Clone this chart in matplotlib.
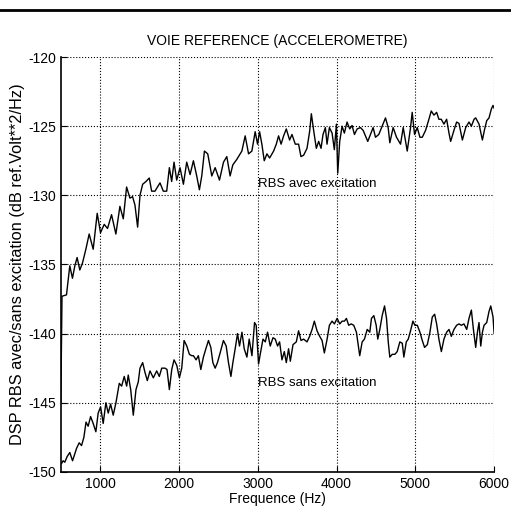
import numpy as np
import matplotlib.pyplot as plt
from matplotlib.lines import Line2D

plt.rcParams['font.family'] = ['Liberation Sans', 'DejaVu Sans']
plt.rcParams['axes.unicode_minus'] = False

# RBS avec excitation (Hz, dB)
freq_avec = [500, 515, 572, 614, 648, 678, 707, 741, 775, 818, 860, 911, 962, 1004,
             1051, 1093, 1144, 1199, 1250, 1293, 1335, 1377, 1411, 1441, 1475, 1505,
             1539, 1581, 1623, 1653, 1695, 1759, 1801, 1844, 1878, 1907, 1937, 1971,
             2013, 2056, 2098, 2141, 2183, 2225, 2259, 2289, 2323, 2365, 2416, 2459,
             2514, 2565, 2607, 2649, 2683, 2734, 2798, 2840, 2883, 2925, 2967, 2997,
             3023, 3052, 3082, 3116, 3150, 3201, 3235, 3264, 3296, 3328, 3362, 3404,
             3434, 3476, 3518, 3548, 3582, 3625, 3659, 3680, 3709, 3743, 3773, 3803,
             3828, 3858, 3879, 3909, 3943, 3972, 3998, 4015, 4040, 4070, 4099, 4133,
             4167, 4197, 4227, 4261, 4303, 4337, 4367, 4396, 4430, 4464, 4494, 4536,
             4579, 4621, 4655, 4676, 4718, 4761, 4812, 4846, 4897, 4939, 4960, 4990,
             5024, 5058, 5088, 5130, 5172, 5202, 5236, 5270, 5299, 5329, 5363, 5397,
             5427, 5448, 5490, 5524, 5554, 5597, 5639, 5681, 5711, 5745, 5766, 5808,
             5851, 5880, 5906, 5935, 5965, 5986, 6000]
dsp_avec = [-145.0, -137.3, -137.2, -135.1, -136.0, -135.1, -134.5, -135.4, -134.9,
            -133.9, -132.8, -133.9, -131.3, -132.7, -132.1, -132.4, -131.4, -132.8,
            -130.8, -131.7, -129.4, -130.2, -130.1, -130.7, -132.3, -130.0, -129.2,
            -129.0, -128.75, -129.7, -129.7, -129.1, -129.7, -129.7, -128.0, -129.0,
            -127.6, -128.9, -128.0, -129.2, -127.6, -128.5, -127.5, -128.6, -129.6,
            -128.6, -126.8, -127.0, -128.6, -128.0, -128.9, -127.6, -127.2, -128.6,
            -127.8, -127.4, -126.8, -125.7, -127.0, -126.8, -125.4, -126.3, -125.4,
            -126.3, -127.5, -127.0, -127.3, -126.8, -126.3, -125.7, -126.3, -125.7,
            -125.2, -126.0, -125.6, -126.3, -126.3, -127.2, -127.1, -126.6, -125.35,
            -124.1, -125.3, -126.6, -126.1, -126.6, -125.6, -125.1, -126.3, -125.1,
            -125.5, -126.7, -124.85, -128.4, -126.1, -125.0, -125.5, -124.7, -125.2,
            -124.95, -125.6, -125.2, -125.1, -125.3, -125.7, -126.1, -125.6, -125.1,
            -125.8, -125.6, -125.0, -124.4, -125.1, -126.2, -125.1, -125.8, -126.3,
            -125.1, -126.8, -125.1, -124.0, -125.6, -125.1, -125.8, -125.8, -125.3,
            -124.5, -123.9, -124.2, -124.0, -124.5, -124.5, -124.85, -124.5, -125.5,
            -126.1, -125.3, -124.7, -124.8, -126.0, -125.1, -124.7, -125.0, -124.5,
            -124.4, -124.85, -126.0, -125.2, -124.6, -124.4, -123.75, -123.5, -123.7]

# RBS sans excitation (Hz, dB)
freq_sans = [509, 529, 551, 580, 614, 649, 700, 733, 763, 793, 820, 847, 878, 911,
             945, 974, 1005, 1038, 1072, 1102, 1132, 1165, 1200, 1242, 1272, 1305,
             1336, 1356, 1387, 1420, 1454, 1483, 1505, 1539, 1568, 1598, 1632, 1674,
             1717, 1750, 1781, 1823, 1848, 1878, 1908, 1937, 1972, 2005, 2035, 2065,
             2099, 2132, 2162, 2183, 2217, 2246, 2277, 2310, 2341, 2374, 2404, 2430,
             2459, 2488, 2522, 2564, 2599, 2628, 2659, 2684, 2713, 2743, 2768, 2799,
             2828, 2862, 2891, 2926, 2959, 2980, 3010, 3031, 3066, 3095, 3124, 3158,
             3193, 3222, 3251, 3277, 3307, 3337, 3362, 3391, 3413, 3447, 3489, 3518,
             3549, 3582, 3625, 3658, 3689, 3718, 3752, 3786, 3816, 3845, 3880, 3909,
             3943, 3973, 4007, 4040, 4071, 4100, 4125, 4154, 4185, 4218, 4252, 4294,
             4325, 4354, 4389, 4422, 4443, 4473, 4503, 4523, 4549, 4579, 4609, 4634,
             4656, 4676, 4707, 4740, 4770, 4803, 4834, 4854, 4885, 4910, 4939, 4969,
             4994, 5025, 5058, 5088, 5117, 5152, 5185, 5215, 5245, 5270, 5299, 5330,
             5363, 5397, 5427, 5457, 5490, 5524, 5554, 5584, 5617, 5652, 5681, 5711,
             5737, 5766, 5788, 5808, 5830, 5851, 5872, 5906, 5935, 5957, 5986, 6000]
dsp_sans = [-149.4, -149.2, -149.3, -148.9, -148.6, -149.2, -148.3, -147.9, -148.1,
            -147.5, -146.4, -146.7, -146.0, -146.5, -147.1, -145.75, -145.3, -146.5,
            -145.0, -145.75, -145.1, -145.9, -145.0, -143.6, -143.8, -143.1, -143.8,
            -143.0, -144.05, -145.9, -144.05, -143.5, -142.5, -142.1, -142.8, -143.4,
            -142.7, -143.2, -142.7, -143.1, -142.5, -142.5, -142.6, -144.05, -142.6,
            -141.9, -142.3, -143.2, -142.5, -140.5, -140.9, -141.5, -141.6, -141.6,
            -141.9, -141.6, -142.6, -141.7, -141.1, -140.5, -141.0, -142.1, -142.5,
            -142.1, -141.4, -140.5, -140.9, -142.1, -143.1, -142.1, -141.1, -140.0,
            -140.9, -139.9, -141.1, -141.7, -140.4, -141.6, -139.2, -139.4, -142.2,
            -141.5, -140.4, -140.6, -139.9, -140.9, -140.3, -140.4, -140.9, -140.6,
            -141.9, -141.3, -142.1, -141.1, -142.0, -140.8, -140.6, -139.8, -140.5,
            -140.4, -140.6, -140.2, -139.7, -139.1, -139.8, -140.2, -140.5, -141.4,
            -140.4, -139.4, -139.1, -139.3, -138.9, -139.3, -139.1, -139.1, -138.9,
            -139.4, -139.3, -139.4, -139.9, -141.6, -140.6, -140.4, -139.7, -139.9,
            -138.9, -138.7, -139.4, -140.4, -139.7, -138.7, -138.0, -138.9, -140.6,
            -141.7, -141.5, -141.5, -141.3, -140.6, -140.7, -141.7, -140.6, -140.4,
            -139.8, -139.1, -139.4, -139.4, -139.9, -140.5, -141.0, -140.8, -139.9,
            -138.8, -138.6, -139.3, -140.4, -141.3, -140.4, -139.9, -139.7, -140.2,
            -139.7, -139.4, -139.3, -139.4, -139.3, -139.7, -138.9, -138.3, -139.7,
            -141.0, -139.9, -139.2, -140.9, -139.9, -139.4, -139.2, -138.4, -138.0,
            -138.8, -140.0]

xticks = [1000, 2000, 3000, 4000, 5000, 6000]
yticks = [-150, -145, -140, -135, -130, -125, -120]

fig = plt.figure(figsize=(5.11, 5.14), dpi=100)
ax = fig.add_axes([0.119, 0.082, 0.848, 0.807])

ax.plot(freq_avec, dsp_avec, color='black', lw=1.0)
ax.plot(freq_sans, dsp_sans, color='black', lw=1.0)

ax.set_xlim(500, 6000)
ax.set_ylim(-150, -120)
ax.set_xticks(xticks)
ax.set_yticks(yticks)
ax.tick_params(direction='in', length=4, width=0.8, labelsize=10, colors='black')
ax.grid(True, linestyle=':', color='black', linewidth=0.8)
ax.spines['top'].set_visible(False)
ax.spines['right'].set_visible(False)
ax.spines['left'].set_linewidth(1.2)
ax.spines['bottom'].set_linewidth(1.2)

ax.set_title('VOIE REFERENCE (ACCELEROMETRE)', fontsize=10, pad=9)
ax.set_xlabel('Frequence (Hz)', fontsize=10, labelpad=1)
ax.set_ylabel('DSP RBS avec/sans excitation (dB ref.Volt**2/Hz)', fontsize=11.8, labelpad=2)

ax.text(3000, -129.15, 'RBS avec excitation', fontsize=9.5, va='center', ha='left')
ax.text(3000, -143.6, 'RBS sans excitation', fontsize=9.5, va='center', ha='left')

# scan edge line at the top of the page
fig.add_artist(Line2D([0, 1], [0.980, 0.980], color='black', lw=2))

fig.savefig('out.png', dpi=100)
